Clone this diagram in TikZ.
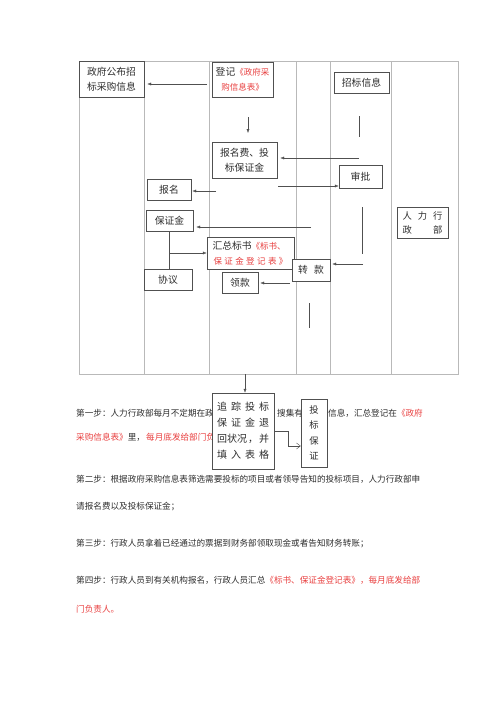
\documentclass[tikz,border=0pt]{standalone}
\usepackage{fontspec}
\setmainfont{Noto Sans CJK SC}
\usetikzlibrary{arrows.meta}
\XeTeXlinebreaklocale "zh"
\XeTeXlinebreakskip=0pt plus 1pt

\definecolor{redtxt}{RGB}{232,62,62}
\definecolor{boxline}{RGB}{80,80,80}
\definecolor{gridline}{RGB}{185,185,185}
\definecolor{txtgray}{RGB}{45,45,45}

\newcommand{\rd}[1]{\textcolor{redtxt}{\fontsize{8.5}{15}\selectfont #1}}
\newcommand{\gp}{\hfill{}}

\tikzset{
  flowbox/.style={draw=boxline, fill=white, inner sep=0pt, align=center, text=txtgray,
    font=\fontsize{9.8}{15}\selectfont},
  arr/.style={draw=boxline, -{Latex[length=4pt,width=3pt]}},
  openarr/.style={draw=boxline, -{Straight Barb[length=4pt,width=6pt]}},
  plainline/.style={draw=boxline},
  para/.style={anchor=base west, inner sep=0pt, text=txtgray, font=\fontsize{8.6}{10}\selectfont},
}

\begin{document}
\begin{tikzpicture}[x=1pt,y=-1pt]
    \useasboundingbox (0,0) rectangle (500,707);

    % lanes
    \draw[gridline] (79,61) rectangle (458,374);
    \foreach \x in {144,209,296,330,391}
        \draw[gridline] (\x,61) -- (\x,374);

    \node[flowbox, minimum width=65pt, minimum height=36pt] (gov) at (111.5,79) {政府公布招\\标采购信息};
    \node[flowbox, minimum width=61pt, minimum height=35pt] (reg) at (242.5,79.5) {登记\rd{《政府采}\\\rd{购信息表》}};
    \node[flowbox, minimum width=55pt, minimum height=21pt] (info) at (361.5,82.5) {招标信息};
    \node[flowbox, minimum width=65pt, minimum height=36pt] (fee) at (244.5,160) {报名费、投\\标保证金};
    \node[flowbox, minimum width=43pt, minimum height=23pt] (appr) at (360.5,176.5) {审批};
    \node[flowbox, minimum width=44pt, minimum height=21pt] (sign) at (169,189.5) {报名};
    \node[flowbox, minimum width=47pt, minimum height=21pt] (bond) at (169.5,220.5) {保证金};
    \node[flowbox, minimum width=87pt, minimum height=32pt] (sum) at (250.5,253)
        {\makebox[76pt][l]{汇总标书\rd{《标书、}}\\\makebox[74pt]{\rd{保\gp 证\gp 金\gp 登\gp 记\gp 表\gp 》}}};
    \node[flowbox, minimum width=48pt, minimum height=21pt] (agree) at (168,279.5) {协议};
    \node[flowbox, minimum width=36pt, minimum height=21pt] (cash) at (240,282.5) {领款};
    \node[flowbox, minimum width=38pt, minimum height=22pt] (trans) at (311,270) {转\hspace{6pt}款};
    \node[flowbox, minimum width=51pt, minimum height=31pt, font=\fontsize{9.3}{14}\selectfont] (hr) at (422.5,222.5)
        {\makebox[40pt]{人\gp 力\gp 行}\\\makebox[40pt]{政\gp 部}};

    \coordinate (r1) at (207,84);
    \draw[arr, shorten >=3pt] (r1) -- (r1 -| gov.east);
    \coordinate (d1) at (248,117);
    \coordinate (d2) at (248,133);
    \draw[arr] (d1) -- (d2);
    \coordinate (i1) at (359,116);
    \coordinate (i2) at (359,137);
    \draw[plainline] (i1) -- (i2);
    \coordinate (i3) at (359,158);
    \draw[arr, shorten >=3pt] (i3) -- (i3 -| fee.east);
    \coordinate (f1) at (278,186);
    \draw[arr] (f1) -- (f1 -| appr.west);
    \coordinate (s1) at (216,191);
    \draw[arr, shorten >=1pt] (s1) -- (s1 -| sign.east);
    \coordinate (b1) at (311,227);
    \draw[arr, shorten >=3pt] (b1) -- (b1 -| bond.east);
    \draw[plainline] (bond.south) -- (bond.south |- agree.north);
    \draw[arr] (sum.west -| bond.south) -- (sum.west);
    \coordinate (c1) at (290,283);
    \draw[arr, shorten >=2pt] (c1) -- (c1 -| cash.east);
    \coordinate (t1) at (362,207);
    \coordinate (t2) at (362,254);
    \draw[plainline] (t1) -- (t2);
    \coordinate (t3) at (363,264);
    \draw[arr, shorten >=2pt] (t3) -- (t3 -| trans.east);
    \coordinate (t4) at (309,303);
    \coordinate (t5) at (309,328);
    \draw[plainline] (t4) -- (t5);

    % steps
    \node[para] (p1a) at (76,416) {第一步：人力行政部每月不定期在政};
    \node[para] (p1b) at (277,416) {搜集有};
    \node[para] (p1c) at (328,416) {信息，汇总登记在\textcolor{redtxt}{《政府}};
    \node[para] (p1d) at (76,440) {\textcolor{redtxt}{采购信息表》}里，};
    \node[para] (p1e) at (146,440) {\textcolor{redtxt}{每月底发给部门负}};
    \node[para, text width=364pt, align=justify] (p2a) at (76,482)
        {\parfillskip=0pt 第二步：根据政府采购信息表筛选需要投标的项目或者领导告知的投标项目，人力行政部申};
    \node[para] (p2b) at (76,509) {请报名费以及投标保证金；};
    \node[para] (p3) at (76,546) {第三步：行政人员拿着已经通过的票据到财务部领取现金或者告知财务转账；};
    \node[para, text width=347pt, align=justify] (p4a) at (76,583)
        {\parfillskip=0pt 第四步：行政人员到有关机构报名，行政人员汇总\textcolor{redtxt}{《标书、保证金登记表》，每月底发给部}};
    \node[para] (p4b) at (76,612) {\textcolor{redtxt}{门负责人。}};

    % boxes below the lanes
    \node[flowbox, minimum width=62pt, minimum height=76pt, font=\fontsize{10}{16}\selectfont] (track) at (243,431)
        {\makebox[52pt]{追\gp 踪\gp 投\gp 标}\\\makebox[52pt]{保\gp 证\gp 金\gp 退}\\\makebox[52pt]{回状况\gp ，\gp 并}\\\makebox[52pt]{填\gp 入\gp 表\gp 格}};
    \node[flowbox, minimum width=26pt, minimum height=68pt, font=\fontsize{9.3}{15.5}\selectfont] (guar) at (314,433) {投\\标\\保\\证};
    \coordinate (m1) at (245,374);
    \draw[arr] (m1) -- (m1 |- track.north);
    \coordinate (k1) at (288,446);
    \draw[openarr] (track.east) -| (k1) -- (k1 -| guar.west);
\end{tikzpicture}
\end{document}
